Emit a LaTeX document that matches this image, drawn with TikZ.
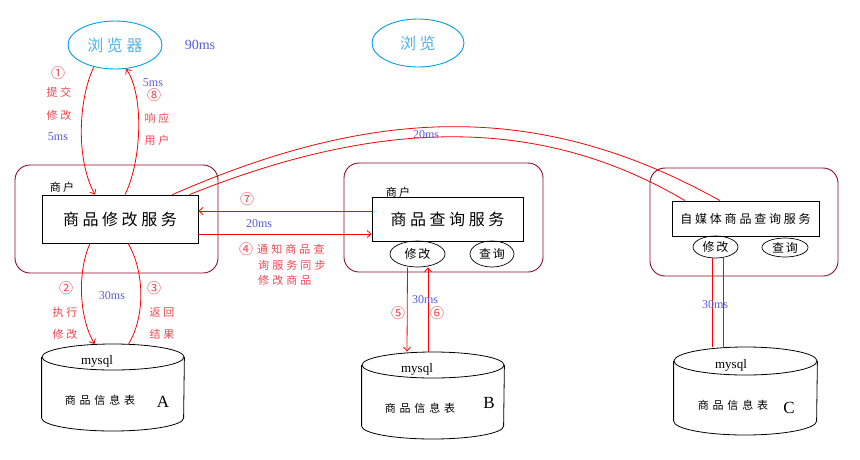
\documentclass[tikz,border=0pt]{standalone}
\usepackage{fontspec}
\setmainfont{Liberation Serif}
\newfontfamily\cjk{Noto Sans CJK SC}
\usetikzlibrary{shapes.geometric,arrows.meta}
\definecolor{cont}{HTML}{8B0A2A}
\definecolor{brc}{HTML}{00A0E8}
\definecolor{brt}{HTML}{4FB4EC}
\definecolor{lbl}{HTML}{F04850}
\definecolor{ms}{HTML}{5A5AE0}
\newcommand\zh[3]{{\cjk\fontsize{#1}{#1}\selectfont\addfontfeature{LetterSpace=#2}#3}}
\begin{document}
\begin{tikzpicture}[x=1pt,y=-1pt,
  container/.style={draw=cont,line width=0.9pt,rounded corners=15pt,inner sep=0pt},
  svc/.style={draw=black,line width=0.8pt,inner sep=0pt},
  browser/.style={ellipse,draw=brc,line width=0.9pt,inner sep=0pt,text=brt},
  op/.style={ellipse,draw=black,line width=0.7pt,inner sep=0pt},
  dbtop/.style={ellipse,draw=black,line width=0.8pt,inner sep=0pt},
  conn/.style={draw=red,line width=0.8pt},
  arr/.style={conn,-{Straight Barb[length=4pt,width=7pt]}},
  lab/.style={text=lbl,inner sep=0pt},
  tm/.style={text=ms,inner sep=0pt,font=\fontsize{12}{12}\selectfont}]
\fill[white] (0,0) rectangle (860,459);
\useasboundingbox (0,0) rectangle (860,459);

% browsers
\node[browser,minimum width=94pt,minimum height=48pt] (br) at (115,45) {\zh{16}{22}{浏览器}};
\node[browser,minimum width=92pt,minimum height=48pt] (br2) at (418,43) {\zh{16}{22}{浏览}};
\node[text=ms,inner sep=0pt,font=\fontsize{14}{14}\selectfont] (t90) at (200,45) {90ms};

% containers
\node[container,minimum width=203pt,minimum height=108pt] (cl) at (116.5,219) {};
\node[container,minimum width=199pt,minimum height=109pt] (cm) at (443.5,217.5) {};
\node[container,minimum width=188pt,minimum height=108pt] (cr) at (744,222) {};

% service boxes
\node[svc,minimum width=156pt,minimum height=48pt] (m1) at (120,219) {\zh{16}{22}{商品修改服务}};
\node[svc,minimum width=151pt,minimum height=44pt] (m2) at (447.5,219) {\zh{16}{22}{商品查询服务}};
\node[svc,minimum width=147pt,minimum height=35pt] (m3) at (745.5,218.5) {\zh{12}{23}{自媒体商品查询服务}};
\node[inner sep=0pt] (sh1) at (62,187) {\zh{11}{20}{商户}};
\node[inner sep=0pt] (sh2) at (398,192) {\zh{11}{20}{商户}};

% operation ellipses
\node[op,minimum width=55pt,minimum height=26pt] (bmod) at (417.5,254) {\zh{12}{15}{修改}};
\node[op,minimum width=44pt,minimum height=26pt] (bq) at (492,254) {\zh{12}{15}{查询}};
\node[op,minimum width=45pt,minimum height=22pt] (cmod) at (715.5,247) {\zh{12}{15}{修改}};
\node[op,minimum width=46pt,minimum height=19pt] (cq) at (785,247.5) {\zh{12}{15}{查询}};

% databases
\node[dbtop,minimum width=142pt,minimum height=26pt] (atop) at (113,357) {};
\draw[line width=0.8pt] (atop.west) -- ++(0,61) arc[start angle=180,end angle=360,x radius=71pt,y radius=13pt] -- (atop.east);
\node[inner sep=0pt,font=\fontsize{13}{13}\selectfont] (amy) at (97,361) {mysql};
\node[inner sep=0pt] (atab) at (100,400) {\zh{11}{35}{商品信息表}};
\node[inner sep=0pt,font=\fontsize{17}{17}\selectfont] (aA) at (163,402) {A};

\node[dbtop,minimum width=142pt,minimum height=26pt] (btop) at (433,365) {};
\draw[line width=0.8pt] (btop.west) -- ++(0,61) arc[start angle=180,end angle=360,x radius=71pt,y radius=13pt] -- (btop.east);
\node[inner sep=0pt,font=\fontsize{13}{13}\selectfont] (bmy) at (417,369) {mysql};
\node[inner sep=0pt] (btab) at (420,408) {\zh{11}{35}{商品信息表}};
\node[inner sep=0pt,font=\fontsize{17}{17}\selectfont] (bB) at (489,403) {B};

\node[dbtop,minimum width=143pt,minimum height=28pt] (ctop) at (745.5,361) {};
\draw[line width=0.8pt] (ctop.west) -- ++(0,60) arc[start angle=180,end angle=360,x radius=71.5pt,y radius=14pt] -- (ctop.east);
\node[inner sep=0pt,font=\fontsize{13}{13}\selectfont] (cmy) at (731,365) {mysql};
\node[inner sep=0pt] (ctab) at (733,405) {\zh{11}{35}{商品信息表}};
\node[inner sep=0pt,font=\fontsize{17}{17}\selectfont] (cC) at (789,408) {C};

% connectors left
\draw[arr] (br.226) .. controls (78,100) and (76,160) .. ([xshift=-25pt]m1.north);
\draw[arr] ([xshift=5pt]m1.north) .. controls (142,160) and (144,95) .. (br.295);
\draw[arr] ([xshift=-30pt]m1.south) .. controls (78,270) and (78,315) .. (atop.145);
\draw[conn] (atop.40) .. controls (146,315) and (144,270) .. ([xshift=8pt]m1.south);

% connectors middle
\draw[arr] ([yshift=8pt]m2.west) -- ([yshift=8pt]m1.east);
\draw[arr] ([yshift=-15pt]m1.east) -- ([yshift=-15pt]m2.west);
\draw[arr] ([xshift=-10pt]bmod.south) -- ([xshift=-26pt]btop.north);
\draw[arr] ([xshift=-5pt]btop.north) -- ([xshift=10.5pt]bmod.south);

% connectors right
\draw[conn] ([xshift=-26pt]m1.north east) .. controls (370,108) and (536,98) .. ([xshift=-25.5pt]m3.north);
\draw[conn] ([xshift=-9pt]m1.north east) .. controls (380,118) and (540,115) .. ([xshift=-60.5pt]m3.north);
\draw[conn] ([xshift=-3.5pt]cmod.south) -- ([xshift=-33.5pt]ctop.north);
\draw[conn] ([xshift=7.5pt]cmod.south) -- ([xshift=-22.5pt]ctop.north);

% labels left top
\node[lab] (n1) at (58,73) {\zh{14}{0}{①}};
\node[lab] (l1a) at (59,92) {\zh{11}{25}{提交}};
\node[lab] (l1b) at (59,115) {\zh{11}{25}{修改}};
\node[tm] (t1) at (58,137) {5ms};
\node[tm] (t8) at (153,83) {5ms};
\node[lab] (n8) at (154,95) {\zh{14}{0}{⑧}};
\node[lab] (l8a) at (157,118) {\zh{11}{25}{响应}};
\node[lab] (l8b) at (157,140) {\zh{11}{25}{用户}};

% labels left bottom
\node[lab] (n2) at (66,288) {\zh{14}{0}{②}};
\node[lab] (l2a) at (65,312) {\zh{11}{25}{执行}};
\node[lab] (l2b) at (65,334) {\zh{11}{25}{修改}};
\node[tm] (t2) at (112,296) {30ms};
\node[lab] (n3) at (154,288) {\zh{14}{0}{③}};
\node[lab] (l3a) at (162,312) {\zh{11}{25}{返回}};
\node[lab] (l3b) at (162,334) {\zh{11}{25}{结果}};

% labels middle
\node[lab] (n7) at (247,199) {\zh{14}{0}{⑦}};
\node[tm] (t7) at (259,224) {20ms};
\node[lab] (n4) at (246,249) {\zh{14}{0}{④}};
\node[lab,anchor=west] (l4a) at (257,249) {\zh{11}{28}{通知商品查}};
\node[lab,anchor=west] (l4b) at (258,265) {\zh{11}{28}{询服务同步}};
\node[lab,anchor=west] (l4c) at (258,280) {\zh{11}{28}{修改商品}};
\node[lab] (n5) at (398,313) {\zh{14}{0}{⑤}};
\node[lab] (n6) at (437,313) {\zh{14}{0}{⑥}};
\node[tm] (t56) at (425,300) {30ms};

% labels right
\node[tm] (tc) at (426,135) {20ms};
\node[tm] (tr) at (715,305) {30ms};
\end{tikzpicture}
\end{document}
